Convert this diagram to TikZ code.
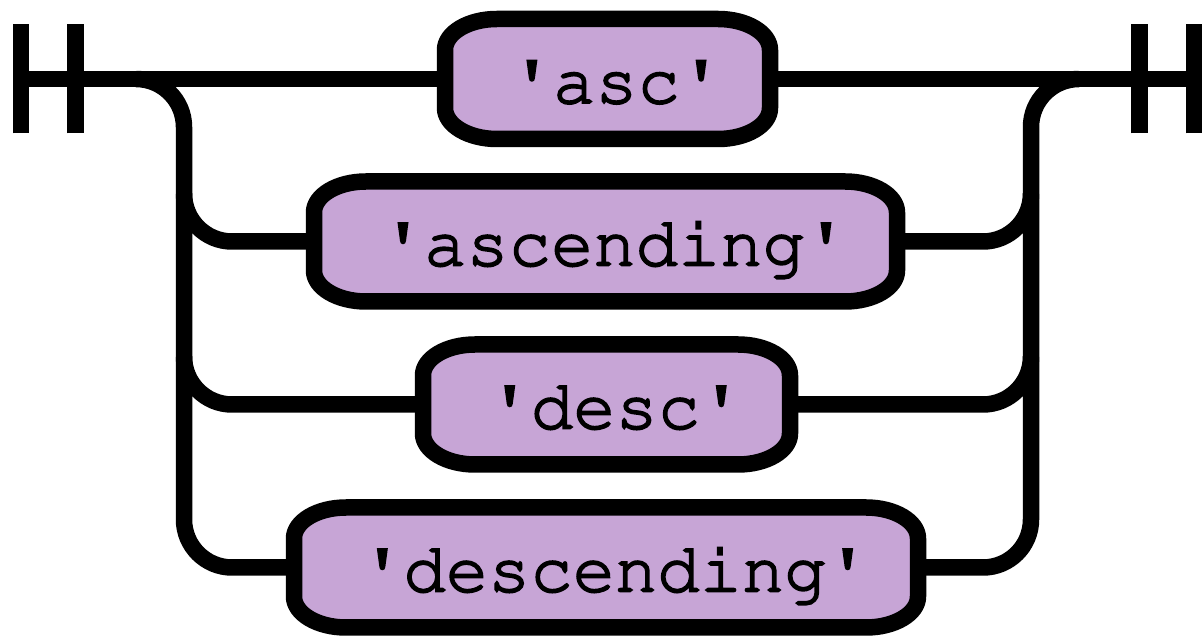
\documentclass[tikz,border=0pt]{standalone}
\usepackage[T1,TU]{fontenc}
\definecolor{boxfill}{RGB}{199,165,214}
\newcommand\rrfont{\fontencoding{T1}\fontfamily{pcr}\fontseries{m}\fontshape{n}\fontsize{70.5pt}{80pt}\selectfont}
\newcommand\q{\textquotesingle}
\newcommand\heavy[1]{\special{pdf:literal 2 Tr 1.8 w}#1\special{pdf:literal 0 Tr}}
\newcommand\railitem[5]{%
  \node[boxnode, minimum width=#4] (#1) at (#2,#3) {};
  \draw[rail, fill=boxfill]
    ([xshift=52pt]#1.north west) -- ([xshift=-52pt]#1.north east)
    arc[start angle=90, end angle=0, x radius=52pt, y radius=31pt]
    -- ([yshift=31pt]#1.south east)
    arc[start angle=0, end angle=-90, x radius=52pt, y radius=31pt]
    -- ([xshift=52pt]#1.south west)
    arc[start angle=270, end angle=180, x radius=52pt, y radius=31pt]
    -- ([yshift=-31pt]#1.north west)
    arc[start angle=180, end angle=90, x radius=52pt, y radius=31pt]
    -- cycle;
  \node[lbl] (#1t) at ([xshift=9pt,yshift=-24pt]#1.center) {\heavy{#5}};
}
\begin{document}
\begin{tikzpicture}[x=1pt,y=1pt,
  rail/.style={line width=16.5pt, draw=black, line join=round},
  bar/.style={line width=16.5pt, draw=black},
  boxnode/.style={inner sep=0pt, outer sep=0pt, minimum height=120pt},
  lbl/.style={font=\rrfont, anchor=base, inner sep=0pt, text=black}]
\useasboundingbox (0,0) rectangle (1203,637);
% end bars
\coordinate (lbarA) at (21,558);
\coordinate (lbarB) at (75.5,558);
\coordinate (rbarA) at (1139.5,558);
\coordinate (rbarB) at (1194,558);
\foreach \b in {lbarA,lbarB,rbarA,rbarB}
  \draw[bar] ([yshift=-54.5pt]\b) -- ([yshift=54.5pt]\b);
% junction coordinates
\coordinate (ljoin) at (184,558);
\coordinate (rjoin) at (1031,558);
\coordinate (l2) at (184,395.5);
\coordinate (l3) at (184,232.5);
\coordinate (l4) at (184,69.5);
\coordinate (r2) at (1031,395.5);
\coordinate (r3) at (1031,232.5);
\coordinate (r4) at (1031,69.5);
% box placeholder nodes (outlines drawn later on top)
\node[boxnode, minimum width=325pt] (asc) at (607.5,558) {};
\node[boxnode, minimum width=583pt] (ascending) at (605.5,395.5) {};
\node[boxnode, minimum width=367pt] (desc) at (606.5,232.5) {};
\node[boxnode, minimum width=624pt] (descending) at (606,69.5) {};
% rails
\draw[rail] (lbarA) -- (asc.west);
\draw[rail] (asc.east) -- (rbarB);
\draw[rail] ([xshift=-48pt]ljoin) arc[start angle=90, end angle=0, radius=48pt]
  -- ([yshift=48pt]l4) arc[start angle=180, end angle=270, radius=48pt] -- (descending.west);
\draw[rail] ([yshift=48pt]l2) arc[start angle=180, end angle=270, radius=48pt] -- (ascending.west);
\draw[rail] ([yshift=48pt]l3) arc[start angle=180, end angle=270, radius=48pt] -- (desc.west);
\draw[rail] (descending.east) -- ([xshift=-48pt]r4) arc[start angle=270, end angle=360, radius=48pt]
  -- ([yshift=-48pt]rjoin) arc[start angle=180, end angle=90, radius=48pt];
\draw[rail] (ascending.east) -- ([xshift=-48pt]r2) arc[start angle=270, end angle=360, radius=48pt];
\draw[rail] (desc.east) -- ([xshift=-48pt]r3) arc[start angle=270, end angle=360, radius=48pt];
% boxes
\railitem{asc}{607.5}{558}{325pt}{\q asc\q}
\railitem{ascending}{605.5}{395.5}{583pt}{\q ascending\q}
\railitem{desc}{606.5}{232.5}{367pt}{\q desc\q}
\railitem{descending}{606}{69.5}{624pt}{\q descending\q}
\end{tikzpicture}
\end{document}
